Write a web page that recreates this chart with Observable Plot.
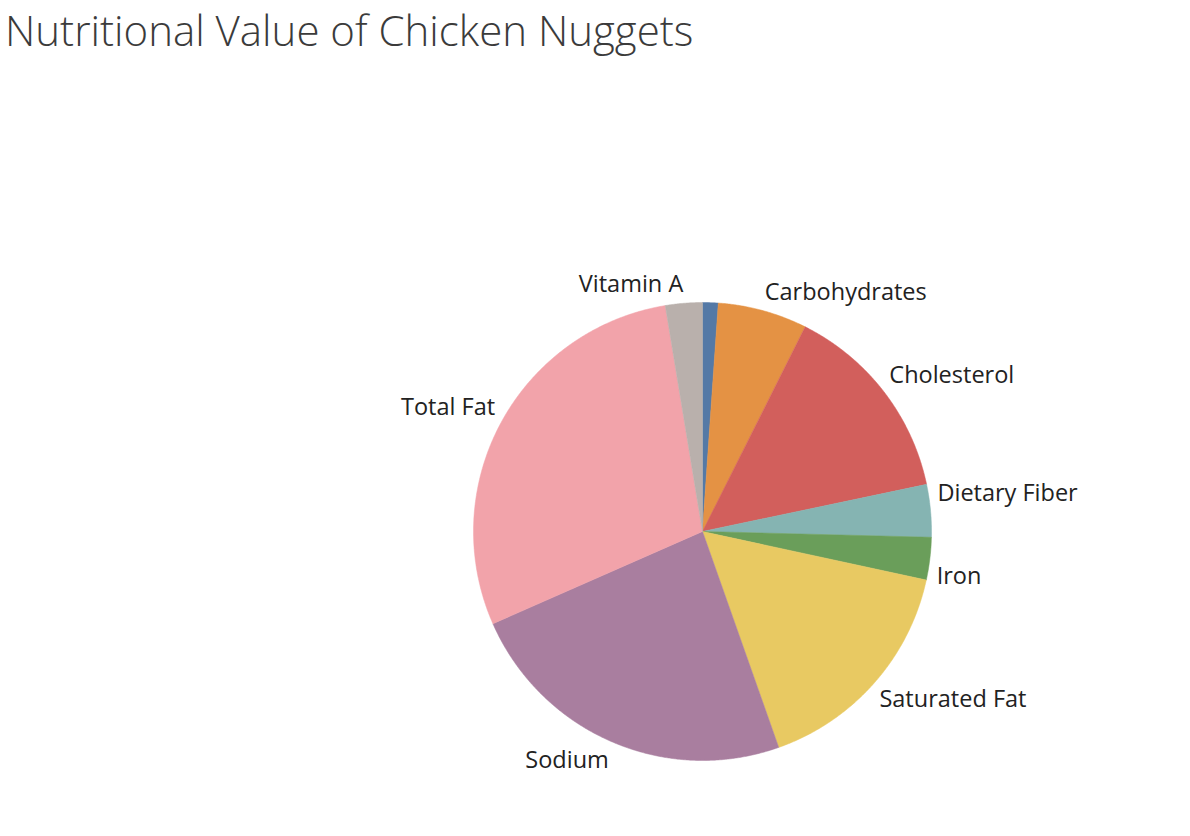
<!DOCTYPE html>
<html><head><meta charset="utf-8">
<script src="https://cdn.jsdelivr.net/npm/d3@7"></script>
<script src="https://cdn.jsdelivr.net/npm/@observablehq/plot@0.6"></script>
<style>
body{margin:0;background:#fff;}
#title{height:70px;font-family:"Open Sans";font-weight:300;font-size:42px;color:#3b3b3b;padding-left:5px;line-height:60px;white-space:nowrap;}
</style></head><body>
<div id="title">Nutritional Value of Chicken Nuggets</div>
<div id="chart"></div>
<script>
const nutrients = ["Calcium","Carbohydrates","Cholesterol","Dietary Fiber","Iron","Saturated Fat","Sodium","Total Fat","Vitamin A"];
const shares = [1.1, 6.3, 14.3, 3.7, 3.0, 16.2, 23.8, 29.0, 2.6];
const colors = ["#5479a6","#e49244","#d25f5c","#85b4b2","#6a9e5a","#e8c962","#a97e9f","#f2a3aa","#b9b0ac"];

const slices = d3.pie().sort(null).value(d => d.value)(nutrients.map((name, i) => ({name, value: shares[i]})));

const outline = slices.flatMap(s => {
  const name = s.data.name;
  const n = Math.max(2, Math.ceil((s.endAngle - s.startAngle) / 0.005));
  const pts = [{name, x: 0, y: 0}];
  for (let k = 0; k <= n; k++) {
    const a = s.startAngle + (s.endAngle - s.startAngle) * k / n;
    pts.push({name, x: Math.sin(a), y: Math.cos(a)});
  }
  pts.push({name, x: 0, y: 0});
  return pts;
});

const cx = 702, cy = 461, r = 229;
const fontSize = 23.5;
// label placement: just outside the rim at the slice's mid-angle, nudged outward vertically,
// then spread apart on each side so labels keep a minimum vertical gap
const labelGap = 83 / r, nudge = 12 / r;
const labels = slices.filter(s => s.data.value >= 2).map(s => {
  const a = (s.startAngle + s.endAngle) / 2;
  return {name: s.data.name, x: 1.03 * Math.sin(a), y: 1.03 * Math.cos(a) + nudge * Math.sign(Math.cos(a)), side: Math.sin(a) >= 0 ? "right" : "left"};
});
for (const side of ["left", "right"]) {
  const group = labels.filter(d => d.side === side).sort((p, q) => q.y - p.y);
  for (let iter = 0; iter < 50; iter++) {
    for (let i = 1; i < group.length; i++) {
      const d = group[i - 1].y - group[i].y;
      if (d < labelGap) {
        const m = (labelGap - d) / 2;
        group[i - 1].y += m;
        group[i].y -= m;
      }
    }
  }
}

const chart = Plot.plot({
  width: 1190,
  height: 766,
  margin: 0,
  x: {domain: [-1, 1], range: [cx - r, cx + r], axis: null},
  y: {domain: [-1, 1], range: [cy + r, cy - r], axis: null},
  color: {type: "ordinal", domain: nutrients, range: colors},
  style: {fontFamily: "Open Sans", background: "#fff"},
  marks: [
    Plot.line(outline, {x: "x", y: "y", z: "name", fill: "name", stroke: "name", strokeWidth: 0.5, curve: "linear"}),
    Plot.text(labels.filter(d => d.side === "right"), {x: "x", y: "y", text: "name", textAnchor: "start", fontSize, fill: "#222"}),
    Plot.text(labels.filter(d => d.side === "left"), {x: "x", y: "y", text: "name", textAnchor: "end", fontSize, fill: "#222"})
  ]
});
document.getElementById("chart").appendChild(chart);
</script>
</body></html>
